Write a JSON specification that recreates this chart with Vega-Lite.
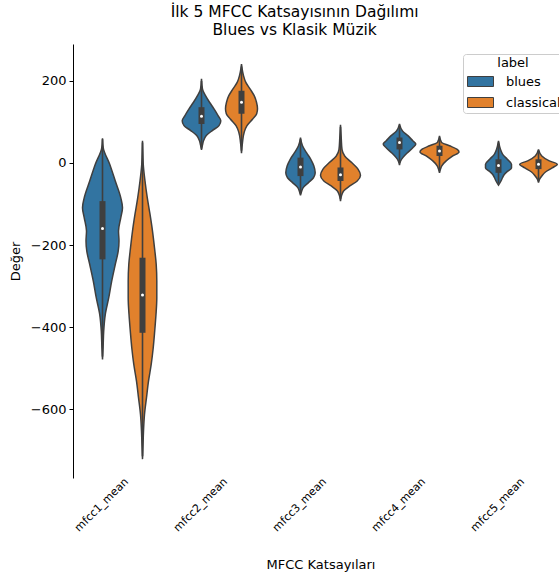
{
  "$schema": "https://vega.github.io/schema/vega-lite/v6.json",
  "background": "white",
  "padding": {"left": 9, "top": 4, "right": 0, "bottom": 5},
  "title": {"text": ["İlk 5 MFCC Katsayısının Dağılımı", "Blues vs Klasik Müzik"], "font": "DejaVu Sans", "fontSize": 15.5, "fontWeight": "normal", "color": "black", "anchor": "middle", "frame": "bounds", "dx": 6, "lineHeight": 18, "offset": 6},
  "data": {"values": [
    {"kind": "kde", "f": "mfcc1_mean", "label": "blues", "v": 60, "dl": 0, "dr": 0},
    {"kind": "kde", "f": "mfcc1_mean", "label": "blues", "v": 37, "dl": -0.75, "dr": 0.75},
    {"kind": "kde", "f": "mfcc1_mean", "label": "blues", "v": -3, "dl": -7.2, "dr": 7.2},
    {"kind": "kde", "f": "mfcc1_mean", "label": "blues", "v": -44, "dl": -12.8, "dr": 12.8},
    {"kind": "kde", "f": "mfcc1_mean", "label": "blues", "v": -85, "dl": -18.3, "dr": 18.3},
    {"kind": "kde", "f": "mfcc1_mean", "label": "blues", "v": -109, "dl": -20, "dr": 20},
    {"kind": "kde", "f": "mfcc1_mean", "label": "blues", "v": -133, "dl": -18.3, "dr": 18.3},
    {"kind": "kde", "f": "mfcc1_mean", "label": "blues", "v": -166, "dl": -16, "dr": 16},
    {"kind": "kde", "f": "mfcc1_mean", "label": "blues", "v": -190, "dl": -16.5, "dr": 16.5},
    {"kind": "kde", "f": "mfcc1_mean", "label": "blues", "v": -215, "dl": -15.7, "dr": 15.7},
    {"kind": "kde", "f": "mfcc1_mean", "label": "blues", "v": -247, "dl": -12.8, "dr": 12.8},
    {"kind": "kde", "f": "mfcc1_mean", "label": "blues", "v": -288, "dl": -9.2, "dr": 9.2},
    {"kind": "kde", "f": "mfcc1_mean", "label": "blues", "v": -329, "dl": -6.2, "dr": 6.2},
    {"kind": "kde", "f": "mfcc1_mean", "label": "blues", "v": -369, "dl": -2.8, "dr": 2.8},
    {"kind": "kde", "f": "mfcc1_mean", "label": "blues", "v": -410, "dl": -1.2, "dr": 1.2},
    {"kind": "kde", "f": "mfcc1_mean", "label": "blues", "v": -450, "dl": -0.6, "dr": 0.6},
    {"kind": "kde", "f": "mfcc1_mean", "label": "blues", "v": -479, "dl": 0, "dr": 0},
    {"kind": "kde", "f": "mfcc1_mean", "label": "classical", "v": 54, "dl": 0, "dr": 0},
    {"kind": "kde", "f": "mfcc1_mean", "label": "classical", "v": 20, "dl": -0.4, "dr": 0.4},
    {"kind": "kde", "f": "mfcc1_mean", "label": "classical", "v": -3, "dl": -0.75, "dr": 0.75},
    {"kind": "kde", "f": "mfcc1_mean", "label": "classical", "v": -44, "dl": -2.5, "dr": 2.5},
    {"kind": "kde", "f": "mfcc1_mean", "label": "classical", "v": -85, "dl": -4.8, "dr": 4.8},
    {"kind": "kde", "f": "mfcc1_mean", "label": "classical", "v": -125, "dl": -7.5, "dr": 7.5},
    {"kind": "kde", "f": "mfcc1_mean", "label": "classical", "v": -166, "dl": -10, "dr": 10},
    {"kind": "kde", "f": "mfcc1_mean", "label": "classical", "v": -207, "dl": -12, "dr": 12},
    {"kind": "kde", "f": "mfcc1_mean", "label": "classical", "v": -247, "dl": -13.7, "dr": 13.7},
    {"kind": "kde", "f": "mfcc1_mean", "label": "classical", "v": -288, "dl": -14.3, "dr": 14.3},
    {"kind": "kde", "f": "mfcc1_mean", "label": "classical", "v": -329, "dl": -14.3, "dr": 14.3},
    {"kind": "kde", "f": "mfcc1_mean", "label": "classical", "v": -369, "dl": -13.5, "dr": 13.5},
    {"kind": "kde", "f": "mfcc1_mean", "label": "classical", "v": -410, "dl": -12.2, "dr": 12.2},
    {"kind": "kde", "f": "mfcc1_mean", "label": "classical", "v": -451, "dl": -10.7, "dr": 10.7},
    {"kind": "kde", "f": "mfcc1_mean", "label": "classical", "v": -491, "dl": -8.7, "dr": 8.7},
    {"kind": "kde", "f": "mfcc1_mean", "label": "classical", "v": -532, "dl": -6, "dr": 6},
    {"kind": "kde", "f": "mfcc1_mean", "label": "classical", "v": -572, "dl": -4, "dr": 4},
    {"kind": "kde", "f": "mfcc1_mean", "label": "classical", "v": -613, "dl": -2, "dr": 2},
    {"kind": "kde", "f": "mfcc1_mean", "label": "classical", "v": -654, "dl": -1, "dr": 1},
    {"kind": "kde", "f": "mfcc1_mean", "label": "classical", "v": -690, "dl": -0.5, "dr": 0.5},
    {"kind": "kde", "f": "mfcc1_mean", "label": "classical", "v": -722, "dl": 0, "dr": 0},
    {"kind": "kde", "f": "mfcc2_mean", "label": "blues", "v": 205, "dl": 0, "dr": 0},
    {"kind": "kde", "f": "mfcc2_mean", "label": "blues", "v": 180, "dl": -1, "dr": 1},
    {"kind": "kde", "f": "mfcc2_mean", "label": "blues", "v": 164, "dl": -4, "dr": 4},
    {"kind": "kde", "f": "mfcc2_mean", "label": "blues", "v": 148, "dl": -8, "dr": 8},
    {"kind": "kde", "f": "mfcc2_mean", "label": "blues", "v": 132, "dl": -12.5, "dr": 12.5},
    {"kind": "kde", "f": "mfcc2_mean", "label": "blues", "v": 115, "dl": -16.7, "dr": 16.7},
    {"kind": "kde", "f": "mfcc2_mean", "label": "blues", "v": 103, "dl": -19.3, "dr": 19.3},
    {"kind": "kde", "f": "mfcc2_mean", "label": "blues", "v": 91, "dl": -17.5, "dr": 17.5},
    {"kind": "kde", "f": "mfcc2_mean", "label": "blues", "v": 79, "dl": -10.8, "dr": 10.8},
    {"kind": "kde", "f": "mfcc2_mean", "label": "blues", "v": 67, "dl": -4.8, "dr": 4.8},
    {"kind": "kde", "f": "mfcc2_mean", "label": "blues", "v": 54, "dl": -2, "dr": 2},
    {"kind": "kde", "f": "mfcc2_mean", "label": "blues", "v": 44, "dl": -1, "dr": 1},
    {"kind": "kde", "f": "mfcc2_mean", "label": "blues", "v": 32, "dl": 0, "dr": 0},
    {"kind": "kde", "f": "mfcc2_mean", "label": "classical", "v": 241, "dl": 0, "dr": 0},
    {"kind": "kde", "f": "mfcc2_mean", "label": "classical", "v": 213, "dl": -2, "dr": 2},
    {"kind": "kde", "f": "mfcc2_mean", "label": "classical", "v": 197, "dl": -4.2, "dr": 4.2},
    {"kind": "kde", "f": "mfcc2_mean", "label": "classical", "v": 180, "dl": -8.7, "dr": 8.7},
    {"kind": "kde", "f": "mfcc2_mean", "label": "classical", "v": 164, "dl": -12.7, "dr": 12.7},
    {"kind": "kde", "f": "mfcc2_mean", "label": "classical", "v": 148, "dl": -15, "dr": 15},
    {"kind": "kde", "f": "mfcc2_mean", "label": "classical", "v": 132, "dl": -16, "dr": 16},
    {"kind": "kde", "f": "mfcc2_mean", "label": "classical", "v": 120, "dl": -15.2, "dr": 15.2},
    {"kind": "kde", "f": "mfcc2_mean", "label": "classical", "v": 107, "dl": -11.2, "dr": 11.2},
    {"kind": "kde", "f": "mfcc2_mean", "label": "classical", "v": 91, "dl": -5.5, "dr": 5.5},
    {"kind": "kde", "f": "mfcc2_mean", "label": "classical", "v": 75, "dl": -2.7, "dr": 2.7},
    {"kind": "kde", "f": "mfcc2_mean", "label": "classical", "v": 50, "dl": -1, "dr": 1},
    {"kind": "kde", "f": "mfcc2_mean", "label": "classical", "v": 24, "dl": 0, "dr": 0},
    {"kind": "kde", "f": "mfcc3_mean", "label": "blues", "v": 62, "dl": 0, "dr": 0},
    {"kind": "kde", "f": "mfcc3_mean", "label": "blues", "v": 42, "dl": -2, "dr": 2},
    {"kind": "kde", "f": "mfcc3_mean", "label": "blues", "v": 25, "dl": -6, "dr": 6},
    {"kind": "kde", "f": "mfcc3_mean", "label": "blues", "v": 9, "dl": -10.3, "dr": 10.3},
    {"kind": "kde", "f": "mfcc3_mean", "label": "blues", "v": -7, "dl": -13.3, "dr": 13.3},
    {"kind": "kde", "f": "mfcc3_mean", "label": "blues", "v": -24, "dl": -14.7, "dr": 14.7},
    {"kind": "kde", "f": "mfcc3_mean", "label": "blues", "v": -36, "dl": -13, "dr": 13},
    {"kind": "kde", "f": "mfcc3_mean", "label": "blues", "v": -48, "dl": -8, "dr": 8},
    {"kind": "kde", "f": "mfcc3_mean", "label": "blues", "v": -60, "dl": -2.7, "dr": 2.7},
    {"kind": "kde", "f": "mfcc3_mean", "label": "blues", "v": -70, "dl": -1, "dr": 1},
    {"kind": "kde", "f": "mfcc3_mean", "label": "blues", "v": -79, "dl": 0, "dr": 0},
    {"kind": "kde", "f": "mfcc3_mean", "label": "classical", "v": 93, "dl": 0, "dr": 0},
    {"kind": "kde", "f": "mfcc3_mean", "label": "classical", "v": 60, "dl": -0.75, "dr": 0.75},
    {"kind": "kde", "f": "mfcc3_mean", "label": "classical", "v": 33, "dl": -1.5, "dr": 1.5},
    {"kind": "kde", "f": "mfcc3_mean", "label": "classical", "v": 17, "dl": -4.2, "dr": 4.2},
    {"kind": "kde", "f": "mfcc3_mean", "label": "classical", "v": 1, "dl": -11.2, "dr": 11.2},
    {"kind": "kde", "f": "mfcc3_mean", "label": "classical", "v": -15, "dl": -17.5, "dr": 17.5},
    {"kind": "kde", "f": "mfcc3_mean", "label": "classical", "v": -30, "dl": -20, "dr": 20},
    {"kind": "kde", "f": "mfcc3_mean", "label": "classical", "v": -44, "dl": -16.7, "dr": 16.7},
    {"kind": "kde", "f": "mfcc3_mean", "label": "classical", "v": -56, "dl": -9.3, "dr": 9.3},
    {"kind": "kde", "f": "mfcc3_mean", "label": "classical", "v": -68, "dl": -3.3, "dr": 3.3},
    {"kind": "kde", "f": "mfcc3_mean", "label": "classical", "v": -80, "dl": -1, "dr": 1},
    {"kind": "kde", "f": "mfcc3_mean", "label": "classical", "v": -93, "dl": 0, "dr": 0},
    {"kind": "kde", "f": "mfcc4_mean", "label": "blues", "v": 95, "dl": 0, "dr": 0},
    {"kind": "kde", "f": "mfcc4_mean", "label": "blues", "v": 78, "dl": -3, "dr": 3},
    {"kind": "kde", "f": "mfcc4_mean", "label": "blues", "v": 66, "dl": -8.7, "dr": 8.7},
    {"kind": "kde", "f": "mfcc4_mean", "label": "blues", "v": 54, "dl": -13.3, "dr": 13.3},
    {"kind": "kde", "f": "mfcc4_mean", "label": "blues", "v": 46, "dl": -16.3, "dr": 16.3},
    {"kind": "kde", "f": "mfcc4_mean", "label": "blues", "v": 37, "dl": -13.3, "dr": 13.3},
    {"kind": "kde", "f": "mfcc4_mean", "label": "blues", "v": 25, "dl": -8, "dr": 8},
    {"kind": "kde", "f": "mfcc4_mean", "label": "blues", "v": 13, "dl": -3.3, "dr": 3.3},
    {"kind": "kde", "f": "mfcc4_mean", "label": "blues", "v": 4, "dl": -1, "dr": 1},
    {"kind": "kde", "f": "mfcc4_mean", "label": "blues", "v": -5, "dl": 0, "dr": 0},
    {"kind": "kde", "f": "mfcc4_mean", "label": "classical", "v": 66, "dl": 0, "dr": 0},
    {"kind": "kde", "f": "mfcc4_mean", "label": "classical", "v": 50, "dl": -2, "dr": 2},
    {"kind": "kde", "f": "mfcc4_mean", "label": "classical", "v": 42, "dl": -10, "dr": 10},
    {"kind": "kde", "f": "mfcc4_mean", "label": "classical", "v": 33, "dl": -17.7, "dr": 17.7},
    {"kind": "kde", "f": "mfcc4_mean", "label": "classical", "v": 27, "dl": -19.5, "dr": 19.5},
    {"kind": "kde", "f": "mfcc4_mean", "label": "classical", "v": 17, "dl": -13.3, "dr": 13.3},
    {"kind": "kde", "f": "mfcc4_mean", "label": "classical", "v": 5, "dl": -6.7, "dr": 6.7},
    {"kind": "kde", "f": "mfcc4_mean", "label": "classical", "v": -7, "dl": -2.3, "dr": 2.3},
    {"kind": "kde", "f": "mfcc4_mean", "label": "classical", "v": -15, "dl": -1, "dr": 1},
    {"kind": "kde", "f": "mfcc4_mean", "label": "classical", "v": -24, "dl": 0, "dr": 0},
    {"kind": "kde", "f": "mfcc5_mean", "label": "blues", "v": 54, "dl": 0, "dr": 0},
    {"kind": "kde", "f": "mfcc5_mean", "label": "blues", "v": 33, "dl": -2, "dr": 2},
    {"kind": "kde", "f": "mfcc5_mean", "label": "blues", "v": 21, "dl": -4.2, "dr": 4.2},
    {"kind": "kde", "f": "mfcc5_mean", "label": "blues", "v": 9, "dl": -8.8, "dr": 8.8},
    {"kind": "kde", "f": "mfcc5_mean", "label": "blues", "v": -3, "dl": -13, "dr": 13},
    {"kind": "kde", "f": "mfcc5_mean", "label": "blues", "v": -12, "dl": -13, "dr": 13},
    {"kind": "kde", "f": "mfcc5_mean", "label": "blues", "v": -20, "dl": -9.2, "dr": 9.2},
    {"kind": "kde", "f": "mfcc5_mean", "label": "blues", "v": -28, "dl": -5.8, "dr": 5.8},
    {"kind": "kde", "f": "mfcc5_mean", "label": "blues", "v": -36, "dl": -4, "dr": 4},
    {"kind": "kde", "f": "mfcc5_mean", "label": "blues", "v": -44, "dl": -2.5, "dr": 2.5},
    {"kind": "kde", "f": "mfcc5_mean", "label": "blues", "v": -54, "dl": 0, "dr": 0},
    {"kind": "kde", "f": "mfcc5_mean", "label": "classical", "v": 33, "dl": 0, "dr": 0},
    {"kind": "kde", "f": "mfcc5_mean", "label": "classical", "v": 17, "dl": -3.3, "dr": 3.3},
    {"kind": "kde", "f": "mfcc5_mean", "label": "classical", "v": 5, "dl": -10.8, "dr": 10.8},
    {"kind": "kde", "f": "mfcc5_mean", "label": "classical", "v": -3, "dl": -18.8, "dr": 18.8},
    {"kind": "kde", "f": "mfcc5_mean", "label": "classical", "v": -12, "dl": -13.7, "dr": 13.7},
    {"kind": "kde", "f": "mfcc5_mean", "label": "classical", "v": -22, "dl": -7, "dr": 7},
    {"kind": "kde", "f": "mfcc5_mean", "label": "classical", "v": -32, "dl": -3.3, "dr": 3.3},
    {"kind": "kde", "f": "mfcc5_mean", "label": "classical", "v": -40, "dl": -1, "dr": 1},
    {"kind": "kde", "f": "mfcc5_mean", "label": "classical", "v": -48, "dl": 0, "dr": 0},
    {"kind": "box", "f": "mfcc1_mean", "label": "blues", "lo": -472, "q1": -235, "med": -160, "q3": -93, "hi": 58},
    {"kind": "box", "f": "mfcc1_mean", "label": "classical", "lo": -715, "q1": -414, "med": -322, "q3": -231, "hi": 50},
    {"kind": "box", "f": "mfcc2_mean", "label": "blues", "lo": 35, "q1": 95, "med": 114, "q3": 136, "hi": 200},
    {"kind": "box", "f": "mfcc2_mean", "label": "classical", "lo": 30, "q1": 120, "med": 148, "q3": 176, "hi": 235},
    {"kind": "box", "f": "mfcc3_mean", "label": "blues", "lo": -75, "q1": -32, "med": -10, "q3": 13, "hi": 58},
    {"kind": "box", "f": "mfcc3_mean", "label": "classical", "lo": -88, "q1": -44, "med": -29, "q3": -11, "hi": 88},
    {"kind": "box", "f": "mfcc4_mean", "label": "blues", "lo": 0, "q1": 33, "med": 50, "q3": 62, "hi": 90},
    {"kind": "box", "f": "mfcc4_mean", "label": "classical", "lo": -20, "q1": 17, "med": 29, "q3": 42, "hi": 62},
    {"kind": "box", "f": "mfcc5_mean", "label": "blues", "lo": -50, "q1": -24, "med": -6, "q3": 9, "hi": 50},
    {"kind": "box", "f": "mfcc5_mean", "label": "classical", "lo": -45, "q1": -15, "med": -3, "q3": 9, "hi": 30}
  ]},
  "facet": {
    "column": {
      "field": "f", "type": "nominal",
      "sort": ["mfcc1_mean", "mfcc2_mean", "mfcc3_mean", "mfcc4_mean", "mfcc5_mean"],
      "title": "MFCC Katsayıları",
      "header": {
        "labelOrient": "bottom", "labelAngle": -45, "labelAlign": "right", "labelBaseline": "top",
        "labelFont": "DejaVu Sans", "labelFontSize": 11, "labelColor": "black", "labelPadding": -2,
        "titleOrient": "bottom", "titleFont": "DejaVu Sans", "titleFontSize": 13, "titleFontWeight": "normal", "titleColor": "black", "titlePadding": 15
      }
    }
  },
  "spacing": 0,
  "spec": {
    "width": 99,
    "height": 434,
    "resolve": {"scale": {"x": "independent"}, "axis": {"x": "independent"}},
    "layer": [
      {
        "transform": [{"filter": "datum.label == 'blues'"}],
        "layer": [
          {
            "transform": [{"filter": "datum.kind == 'kde'"}],
            "mark": {"type": "area", "orient": "horizontal", "interpolate": "monotone", "stroke": "#3f3f3f", "strokeWidth": 1.5, "fillOpacity": 1},
            "encoding": {
              "y": {"field": "v", "type": "quantitative", "scale": {"domain": [-768, 290], "nice": false, "zero": false},
                    "axis": {"values": [-600, -400, -200, 0, 200], "title": "Değer", "grid": false, "tickSize": 4, "labelPadding": 3, "titlePadding": 8}},
              "x": {"field": "dl", "type": "quantitative", "stack": null, "scale": {"domain": [-29.5, 69.5], "nice": false, "zero": false},
                    "axis": {"values": [20], "labels": false, "title": null, "grid": false, "tickSize": 4, "orient": "bottom"}},
              "x2": {"field": "dr"},
              "color": {"field": "label", "type": "nominal", "scale": {"domain": ["blues", "classical"], "range": ["#3274a1", "#e1812c"]},
                        "legend": {"title": "label", "orient": "none", "legendX": 390, "legendY": 10}}
            }
          },
          {
            "transform": [{"filter": "datum.kind == 'box'"}],
            "mark": {"type": "rule", "color": "#3f3f3f", "strokeWidth": 1.6},
            "encoding": {"y": {"field": "lo", "type": "quantitative"}, "y2": {"field": "hi"}, "x": {"datum": 0, "axis": null}}
          },
          {
            "transform": [{"filter": "datum.kind == 'box'"}],
            "mark": {"type": "rule", "color": "#3f3f3f", "strokeWidth": 6},
            "encoding": {"y": {"field": "q1", "type": "quantitative"}, "y2": {"field": "q3"}, "x": {"datum": 0, "axis": null}}
          },
          {
            "transform": [{"filter": "datum.kind == 'box'"}],
            "mark": {"type": "point", "filled": true, "color": "white", "size": 9, "opacity": 1},
            "encoding": {"y": {"field": "med", "type": "quantitative"}, "x": {"datum": 0, "axis": null}}
          }
        ]
      },
      {
        "transform": [{"filter": "datum.label == 'classical'"}],
        "layer": [
          {
            "transform": [{"filter": "datum.kind == 'kde'"}],
            "mark": {"type": "area", "orient": "horizontal", "interpolate": "monotone", "stroke": "#3f3f3f", "strokeWidth": 1.5, "fillOpacity": 1},
            "encoding": {
              "y": {"field": "v", "type": "quantitative"},
              "x": {"field": "dl", "type": "quantitative", "stack": null, "scale": {"domain": [-69.5, 29.5], "nice": false, "zero": false},
                    "axis": {"orient": "top", "labels": false, "ticks": false, "title": null, "grid": false, "domain": true}},
              "x2": {"field": "dr"},
              "color": {"field": "label", "type": "nominal"}
            }
          },
          {
            "transform": [{"filter": "datum.kind == 'box'"}],
            "mark": {"type": "rule", "color": "#3f3f3f", "strokeWidth": 1.6},
            "encoding": {"y": {"field": "lo", "type": "quantitative"}, "y2": {"field": "hi"}, "x": {"datum": 0, "axis": null}}
          },
          {
            "transform": [{"filter": "datum.kind == 'box'"}],
            "mark": {"type": "rule", "color": "#3f3f3f", "strokeWidth": 6},
            "encoding": {"y": {"field": "q1", "type": "quantitative"}, "y2": {"field": "q3"}, "x": {"datum": 0, "axis": null}}
          },
          {
            "transform": [{"filter": "datum.kind == 'box'"}],
            "mark": {"type": "point", "filled": true, "color": "white", "size": 9, "opacity": 1},
            "encoding": {"y": {"field": "med", "type": "quantitative"}, "x": {"datum": 0, "axis": null}}
          }
        ]
      }
    ]
  },
  "config": {
    "view": {"stroke": null},
    "font": "DejaVu Sans",
    "axis": {"domainColor": "black", "tickColor": "black", "labelColor": "black", "titleColor": "black", "labelFont": "DejaVu Sans", "titleFont": "DejaVu Sans", "labelFontSize": 13, "titleFontSize": 13, "titleFontWeight": "normal", "domainWidth": 1, "tickWidth": 1},
    "legend": {"titleFont": "DejaVu Sans", "labelFont": "DejaVu Sans", "titleFontSize": 13, "labelFontSize": 13, "titleFontWeight": "normal", "titleColor": "black", "labelColor": "black",
               "strokeColor": "#cccccc", "fillColor": "white", "cornerRadius": 3, "padding": 3, "titleAnchor": "middle", "titlePadding": 5,
               "symbolType": "M-2.6,-1H2.6V1H-2.6Z", "symbolSize": 100, "symbolOffset": 8, "symbolStrokeColor": "#3f3f3f", "symbolStrokeWidth": 1, "rowPadding": 6, "labelOffset": 19}
  }
}
